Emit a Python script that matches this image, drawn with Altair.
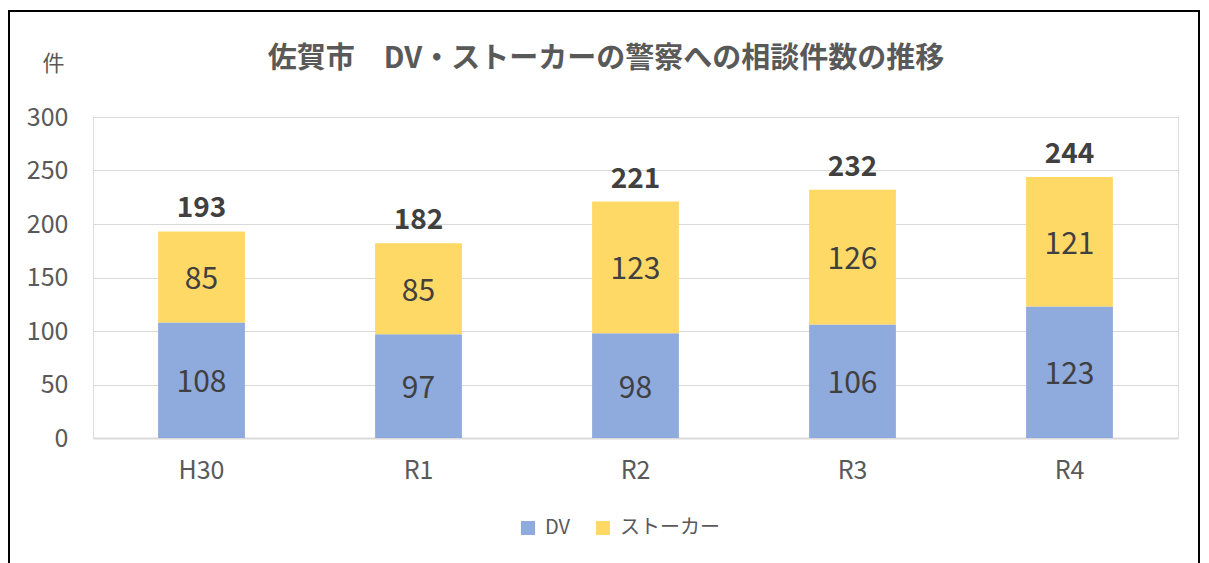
import altair as alt
import pandas as pd

categories = ["H30", "R1", "R2", "R3", "R4"]
dv_values = [108, 97, 98, 106, 123]
stalker_values = [85, 85, 123, 126, 121]
series_names = ["DV", "ストーカー"]
colors = ["#8FAADC", "#FFD966"]
title_text = "佐賀市　DV・ストーカーの警察への相談件数の推移"

rows = []
for c, a, b in zip(categories, dv_values, stalker_values):
    rows.append({"cat": c, "series": series_names[0], "value": a, "ord": 0})
    rows.append({"cat": c, "series": series_names[1], "value": b, "ord": 1})
df = pd.DataFrame(rows)
totals = pd.DataFrame({"cat": categories,
                       "total": [a + b for a, b in zip(dv_values, stalker_values)]})

FONT = "Noto Sans CJK JP, Noto Sans, sans-serif"
W, H = 1085, 321

xenc = alt.X("cat:N", sort=categories,
             scale=alt.Scale(paddingInner=0.6, paddingOuter=0.3),
             axis=alt.Axis(title=None, labelAngle=0, labelFontSize=25, labelColor="#595959",
                           labelFont=FONT, labelPadding=20, ticks=False,
                           domainColor="#D9D9D9", domainWidth=2, grid=False))

bars = alt.Chart(df).mark_bar().encode(
    x=xenc,
    y=alt.Y("sum(value):Q", scale=alt.Scale(domain=[0, 300]), stack="zero",
            axis=alt.Axis(values=[0, 50, 100, 150, 200, 250, 300], title="件",
                          titleAngle=0, titleX=-40, titleY=-54, titleAlign="center",
                          titleBaseline="middle", titleFont=FONT, titleFontSize=22,
                          titleFontWeight="normal", titleColor="#595959",
                          labelFontSize=25, labelColor="#595959", labelFont=FONT,
                          labelPadding=25, ticks=False, domain=False,
                          gridColor="#D9D9D9", gridWidth=1)),
    color=alt.Color("series:N", sort=series_names,
                    scale=alt.Scale(domain=series_names, range=colors),
                    legend=alt.Legend(title=None, orient="none", direction="horizontal",
                                      legendX=425, legendY=401, symbolType="square",
                                      symbolSize=196, symbolStrokeWidth=0,
                                      labelFontSize=20, labelColor="#595959",
                                      labelFont=FONT, columnPadding=22, labelOffset=7)),
    order=alt.Order("ord:Q"),
)

seg_labels = alt.Chart(df).transform_stack(
    stack="value", groupby=["cat"], as_=["y0", "y1"],
    sort=[alt.SortField("ord", order="ascending")]
).transform_calculate(mid="(datum.y0 + datum.y1) / 2").mark_text(
    fontSize=30, color="#404040", font=FONT, baseline="middle", dy=3
).encode(x=alt.X("cat:N", sort=categories), y=alt.Y("mid:Q"), text="value:Q")

tot_labels = alt.Chart(totals).mark_text(
    fontSize=28, fontWeight="bold", color="#404040", font=FONT, baseline="alphabetic", dy=-14
).encode(x=alt.X("cat:N", sort=categories), y=alt.Y("total:Q"), text="total:Q")

frame = alt.Chart(alt.Data(values=[{"k": 1}])).mark_rect(
    fill=None, stroke="#000000", strokeWidth=2
).encode(x=alt.value(-84), x2=alt.value(1106), y=alt.value(-106), y2=alt.value(500))

title = alt.Chart(alt.Data(values=[{"t": title_text}])).mark_text(
    font=FONT, fontSize=29, fontWeight="bold", color="#595959",
    align="center", baseline="middle"
).encode(x=alt.value(513), y=alt.value(-58), text="t:N")

chart = alt.layer(frame, bars, seg_labels, tot_labels, title).properties(
    width=W, height=H,
    autosize=alt.AutoSizeParams(type="none"),
    padding={"left": 85, "top": 109, "right": 23, "bottom": 125},
).configure_view(stroke=None).configure(background="white")

chart.save("out.html", embed_options={"renderer": "svg", "actions": False})
